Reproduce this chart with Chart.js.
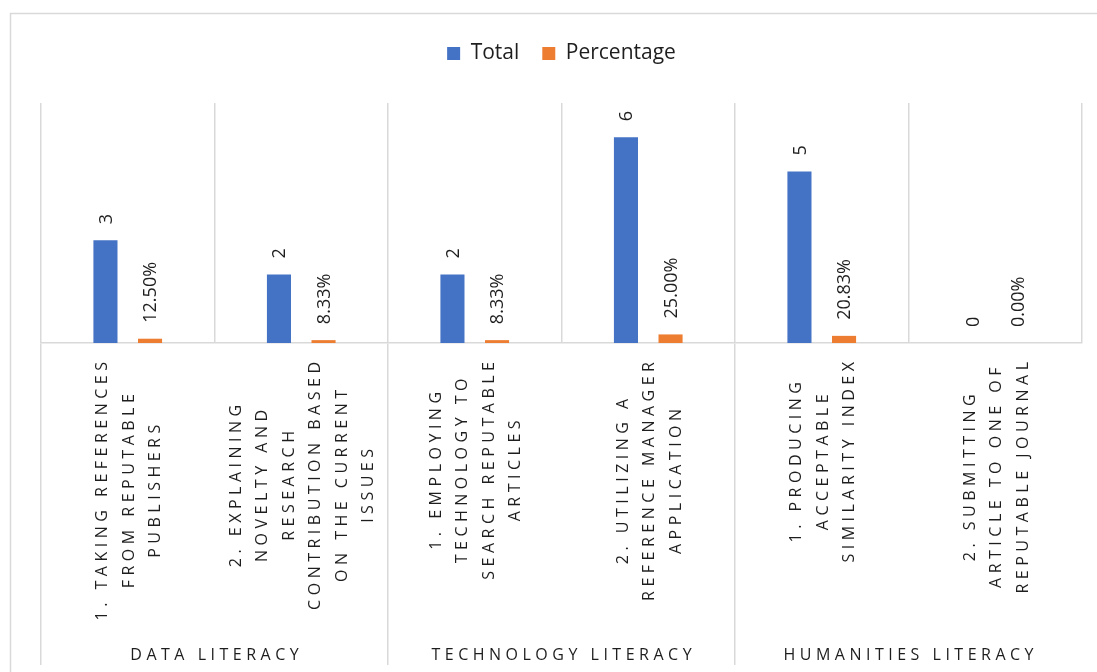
<!DOCTYPE html>
<html>
<head>
<meta charset="utf-8">
<script src="https://cdn.jsdelivr.net/npm/chart.js@4.4.0/dist/chart.umd.min.js"></script>
<style>
  html, body { margin: 0; padding: 0; background: #fff; }
  #wrap { width: 1097px; height: 672px; }
</style>
</head>
<body>
<div id="wrap"><canvas id="chart"></canvas></div>
<script>
// category labels, one array of lines per bar group
const categories = [
  ['1. TAKING REFERENCES', 'FROM REPUTABLE', 'PUBLISHERS'],
  ['2. EXPLAINING', 'NOVELTY AND', 'RESEARCH', 'CONTRIBUTION BASED', 'ON THE CURRENT', 'ISSUES'],
  ['1. EMPLOYING', 'TECHNOLOGY TO', 'SEARCH REPUTABLE', 'ARTICLES'],
  ['2. UTILIZING A', 'REFERENCE MANAGER', 'APPLICATION'],
  ['1. PRODUCING', 'ACCEPTABLE', 'SIMILARITY INDEX'],
  ['2. SUBMITTING', 'ARTICLE TO ONE OF', 'REPUTABLE JOURNAL'],
];
const groups = ['DATA LITERACY', 'TECHNOLOGY LITERACY', 'HUMANITIES LITERACY'];
const seriesNames = ['Total', 'Percentage'];
const totals = [3, 2, 2, 6, 5, 0];
const percentages = [0.125, 0.0833, 0.0833, 0.25, 0.2083, 0];
const yMin = 0;
const yMax = 7;

const FONT = '"Open Sans", "Noto Sans", sans-serif';
const TEXT = '#1e1e1e';
const LINE = '#d9d9d9';
const LS = 4.5; // letter spacing of axis text

const frame = {
  id: 'frame',
  beforeDraw(chart) {
    const ctx = chart.ctx;
    ctx.save();
    ctx.fillStyle = '#fff';
    ctx.fillRect(0, 0, chart.width, chart.height);
    ctx.strokeStyle = LINE;
    ctx.lineWidth = 1.5;
    ctx.strokeRect(10.5, 13.5, chart.width + 10, chart.height + 10);
    ctx.restore();
  }
};

const valueLabels = {
  id: 'valueLabels',
  afterDatasetsDraw(chart) {
    const ctx = chart.ctx;
    ctx.save();
    ctx.font = '18px ' + FONT;
    ctx.fillStyle = TEXT;
    ctx.textAlign = 'left';
    ctx.textBaseline = 'alphabetic';
    chart.data.datasets.forEach((ds, di) => {
      const meta = chart.getDatasetMeta(di);
      meta.data.forEach((bar, i) => {
        const v = ds.data[i];
        const text = di === 0 ? String(v) : (v * 100).toFixed(2) + '%';
        ctx.save();
        ctx.translate(bar.x, bar.y - 16);
        ctx.rotate(-Math.PI / 2);
        ctx.fillText(text, 0, 6.4);
        ctx.restore();
      });
    });
    ctx.restore();
  }
};

const axisLabels = {
  id: 'axisLabels',
  afterDraw(chart) {
    const ctx = chart.ctx;
    const x = chart.scales.x;
    ctx.save();
    ctx.font = '16px ' + FONT;
    ctx.fillStyle = TEXT;
    ctx.textBaseline = 'alphabetic';
    ctx.textAlign = 'center';
    const width = (s) => {
      ctx.letterSpacing = '0px';
      const w = ctx.measureText(s).width + (s.length - 1) * LS;
      ctx.letterSpacing = LS + 'px';
      return w;
    };
    categories.forEach((lines, i) => {
      const cx = x.getPixelForValue(i);
      const maxW = Math.max(...lines.map(width));
      const cy = x.top + 19 + maxW / 2;
      lines.forEach((line, j) => {
        const lx = cx + (j - (lines.length - 1) / 2) * 26.5;
        ctx.save();
        ctx.translate(lx, cy);
        ctx.rotate(-Math.PI / 2);
        ctx.fillText(line, LS / 2, 5.8);
        ctx.restore();
      });
    });
    groups.forEach((g, k) => {
      const gx = (x.getPixelForValue(2 * k) + x.getPixelForValue(2 * k + 1)) / 2;
      width(g);
      ctx.fillText(g, gx + LS / 2, x.bottom - 5);
    });
    ctx.restore();
  }
};

new Chart(document.getElementById('chart'), {
  type: 'bar',
  data: {
    labels: categories,
    datasets: [
      { label: seriesNames[0], data: totals, backgroundColor: '#4472C4', barPercentage: 0.54, categoryPercentage: 0.514 },
      { label: seriesNames[1], data: percentages, backgroundColor: '#ED7D31', barPercentage: 0.54, categoryPercentage: 0.514 },
    ],
  },
  options: {
    responsive: true,
    maintainAspectRatio: false,
    animation: false,
    devicePixelRatio: 1,
    layout: { padding: { top: 20, left: 41, right: 15, bottom: 7 } },
    plugins: {
      legend: {
        position: 'top',
        labels: { color: TEXT, font: { family: FONT, size: 21 }, boxWidth: 13, boxHeight: 13, padding: 23 },
      },
      // empty title used as the gap between legend and plot
      title: { display: true, text: ' ', position: 'top', weight: 500, font: { size: 10 }, padding: { top: 10, bottom: 7 } },
      tooltip: { enabled: false },
    },
    scales: {
      x: {
        offset: true,
        grid: {
          display: true,
          offset: true,
          color: LINE,
          lineWidth: 1.5,
          drawTicks: true,
          tickLength: 322,
          tickWidth: 1.5,
          tickColor: (c) => (c.index % 2 === 0 ? LINE : 'rgba(0,0,0,0)'),
        },
        border: { display: true, color: LINE, width: 1.5 },
        ticks: { display: false },
      },
      y: {
        display: false,
        min: yMin,
        max: yMax,
      },
    },
  },
  plugins: [frame, valueLabels, axisLabels],
});
</script>
</body>
</html>
